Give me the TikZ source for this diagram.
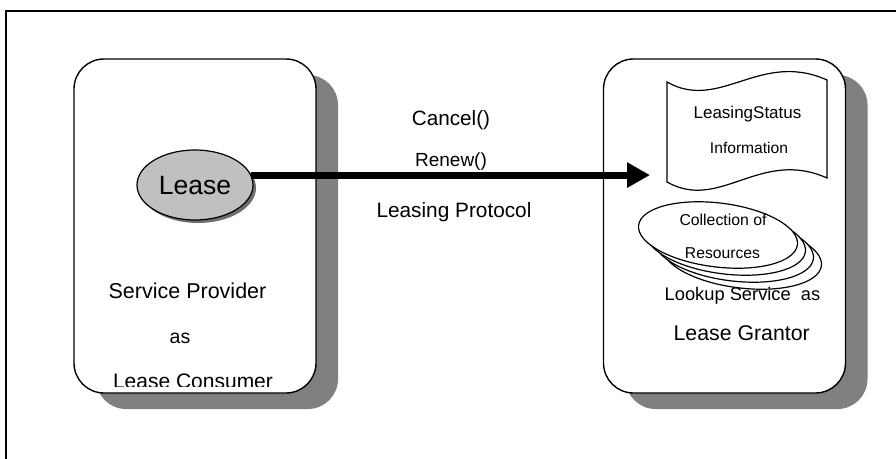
\documentclass[tikz,border=0pt]{standalone}
\usepackage{fontspec}
\setmainfont{Liberation Sans}
\usetikzlibrary{arrows.meta,shadows,shapes.geometric}
\definecolor{shadowgray}{HTML}{808080}
\definecolor{leasefill}{HTML}{C0C0C0}
\definecolor{leaseshadow}{HTML}{6E6E6E}
\newcommand{\fs}[1]{\fontsize{#1}{#1}\selectfont}
\begin{document}
\begin{tikzpicture}[x=1pt,y=-1pt,
  panel/.style={draw, line width=1.4pt, rounded corners=30pt, fill=white,
    inner sep=0pt, minimum width=242pt, minimum height=334pt,
    drop shadow={shadow xshift=22pt, shadow yshift=-16pt, fill=shadowgray, opacity=1}},
  leasenode/.style={ellipse, draw, line width=1.2pt, fill=leasefill, inner sep=0pt,
    minimum width=116pt, minimum height=70pt,
    drop shadow={shadow xshift=3pt, shadow yshift=-3pt, fill=leaseshadow, opacity=1}},
  lbl/.style={inner sep=0pt, anchor=base},
  res/.style={draw, line width=1.2pt, fill=white},
  doc/.style={draw, line width=1.2pt, fill=white},
  flow/.style={line width=7pt, -{Triangle[length=23pt,width=24pt]}}]

\useasboundingbox (0,0) rectangle (896,458);

% outer frame, open towards the right and bottom edges
\draw[line width=2pt] (6,470) -- (6,11) -- (910,11);

% the two participants
\node[panel] (provider) at (195,226) {};
\node[panel] (grantor) at (724.5,226) {};

% left side: the lease held by the service provider
\node[leasenode] (lease) at (195,185) {};
\node[lbl] (leaseTxt) at (195,194) {\fs{26.5}Lease};
\node[lbl] (sp1) at (187.5,298) {\fs{21.5}Service Provider};
\node[lbl] (sp2) at (180,343) {\fs{19.5}as};
\begin{scope}
  \clip (74,59) rectangle (316,386);
  \node[lbl] (sp3) at (193,388) {\fs{21}Lease Consumer};
\end{scope}

% right side: leasing status document
\draw[doc] (667,82) .. controls (720,112) and (760,50) .. (827,80)
  -- (827,178) .. controls (760,148) and (720,212) .. (667,182) -- cycle;
\node[lbl] (st1) at (747.5,118) {\fs{17}LeasingStatus};
\node[lbl] (st2) at (749,153) {\fs{15.6}Information};

% stacked collection of resources
\foreach \k in {3,2,1,0}
  \draw[res, rotate around={-7:(718+8*\k,235+7*\k)}]
    (718+8*\k,235+7*\k) ellipse [x radius=80, y radius=32];
\node[lbl] (rc1) at (723,225) {\fs{15.8}Collection of};
\node[lbl] (rc2) at (722.5,258) {\fs{15.7}Resources};

\node[lbl] (gr1) at (742.5,300) {\fs{18.3}Lookup Service\ \ as};
\node[lbl] (gr2) at (741.7,340) {\fs{21.3}Lease Grantor};

% leasing protocol connector
\coordinate (tip) at (650,175);
\draw[flow] (lease.10) -- (lease.10 -| tip);
\node[lbl] (m1) at (451,125) {\fs{20.7}Cancel()};
\node[lbl] (m2) at (451,166) {\fs{19}Renew()};
\node[lbl] (m3) at (454,217) {\fs{20.8}Leasing Protocol};
\end{tikzpicture}
\end{document}
